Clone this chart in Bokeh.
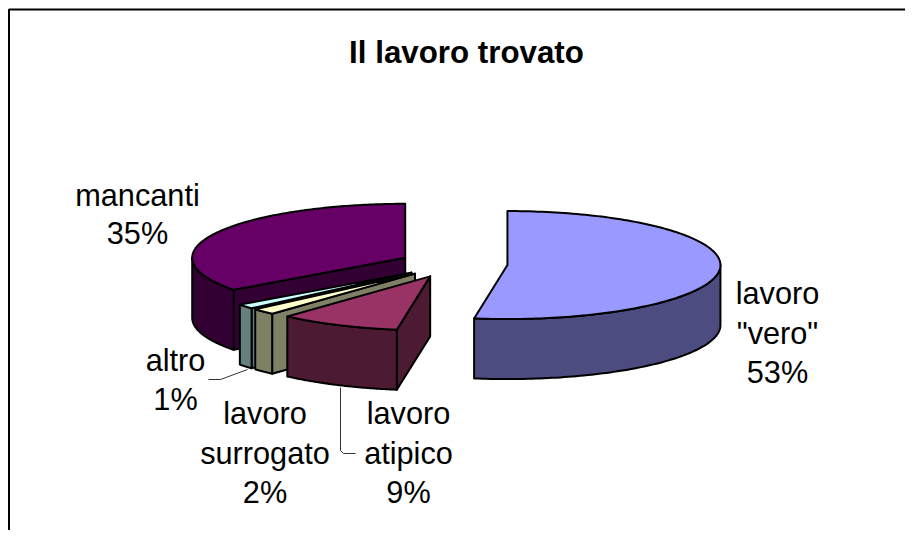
import numpy as np
from bokeh.plotting import figure
from bokeh.models import Range1d
from bokeh.embed import file_html
from bokeh.resources import INLINE
from bokeh.core.properties import value

# ---- data ----
categories = ['lavoro\n"vero"', "lavoro\natipico", "lavoro\nsurrogato", "altro", "mancanti"]
shares = [52.5, 9.2, 1.8, 1.4, 35.1]
percent_labels = ["53%", "9%", "2%", "1%", "35%"]
top_colors = ["#9999FF", "#993366", "#FFFFCC", "#CCFFFF", "#660066"]
side_colors = ["#4C4C80", "#4C1A33", "#808066", "#668080", "#330033"]
title_text = "Il lavoro trovato"

# ---- layout (pixels of the picture) ----
W, H = 905, 530
CX, CY = 453.0, 263.5
RX, RY = 213.0, 54.0
DEPTH = 60.0
EXPLODE = 0.254
EDGE = 2.0

p = figure(width=W, height=H, output_backend="svg", toolbar_location=None,
           x_range=Range1d(0, W), y_range=Range1d(H, 0),
           min_border=0, outline_line_color=None, background_fill_color="white")
p.axis.visible = False
p.grid.visible = False


def rim(ax, ay, deg):
    t = np.radians(deg)
    return ax + RX * np.sin(t), ay - RY * np.cos(t)


def draw(xs, ys, color):
    p.patch(list(xs), list(ys), fill_color=color, line_color="black",
            line_width=EDGE, line_join="round")


# frame of the chart area
p.line([8.5, 8.5, W], [H, 9, 9], line_color="black", line_width=2)

edges = np.cumsum([0.0] + shares) * 3.6
slices = []
for i in range(len(shares)):
    s, e = edges[i], edges[i + 1]
    mid = np.radians((s + e) / 2)
    ax = CX + EXPLODE * RX * np.sin(mid)
    ay = CY - EXPLODE * RY * np.cos(mid)
    slices.append((i, s, e, ax, ay))

# painter's order: far slices first
for i, s, e, ax, ay in [slices[j] for j in (4, 3, 2, 1, 0)]:
    # visible straight cut at the slice's start
    if np.cos(np.radians(s - 90)) < -1e-6:
        rx_, ry_ = rim(ax, ay, s)
        draw([ax, rx_, rx_, ax], [ay, ry_, ry_ + DEPTH, ay + DEPTH], side_colors[i])
    # visible straight cut at the slice's end
    if np.cos(np.radians(e + 90)) < -1e-6:
        rx_, ry_ = rim(ax, ay, e)
        draw([ax, rx_, rx_, ax], [ay, ry_, ry_ + DEPTH, ay + DEPTH], side_colors[i])
    # outer wall (front half of the ellipse only)
    a0, a1 = max(s, 90.0), min(e, 270.0)
    if a1 > a0:
        th = np.linspace(a0, a1, 90)
        x_, y_ = rim(ax, ay, th)
        draw(np.r_[x_, x_[::-1]], np.r_[y_, y_[::-1] + DEPTH], side_colors[i])
    # top face
    th = np.linspace(s, e, 160)
    x_, y_ = rim(ax, ay, th)
    draw(np.r_[ax, x_], np.r_[ay, y_], top_colors[i])

# leader lines
p.line([208, 220, 247], [379, 379, 369], line_color="#333333", line_width=1)
p.line([340, 340, 343, 355], [387, 450, 453, 453], line_color="#333333", line_width=1)

# texts
FS = "30.7px"
label_pos = [(777, 293), (408, 413), (264.5, 413), (175, 360), (137, 195)]
steps = [39.5, 39.5, 39.5, 39, 37.5]
for i, (lx, ly) in enumerate(label_pos):
    lines = categories[i].split("\n") + [percent_labels[i]]
    for k, t in enumerate(lines):
        p.text([lx], [ly + k * steps[i]], text=[t], text_align="center", text_baseline="middle",
               text_font=value("Liberation Sans"), text_font_size=FS, text_color="black")
p.text([466], [52], text=[title_text], text_align="center", text_baseline="middle",
       text_font=value("Liberation Sans"), text_font_size="31.3px", text_font_style="bold",
       text_color="black")

open("out.html", "w").write(file_html(p, INLINE))
